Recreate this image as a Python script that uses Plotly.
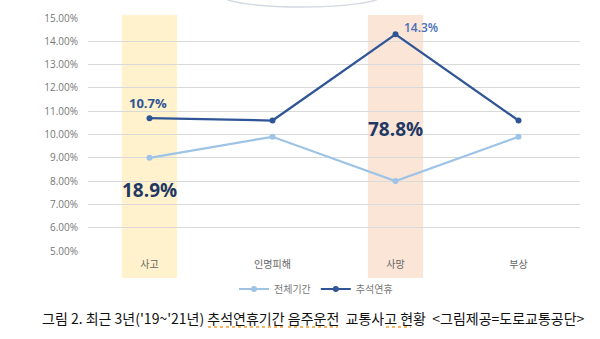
import plotly.graph_objects as go

# 음주운전 교통사고 비율 (%)
categories = ["사고", "인명피해", "사망", "부상"]
total_period = [9.0, 9.9, 8.0, 9.9]      # 전체기간
chuseok = [10.7, 10.6, 14.3, 10.6]       # 추석연휴
highlight_share = {"사고": "18.9%", "사망": "78.8%"}
y_ticks = [5, 6, 7, 8, 9, 10, 11, 12, 13, 14, 15]
caption = ("그림 2. 최근 3년('19~'21년) 추석연휴기간 음주운전\u00a0\u00a0교통사고 현황"
           "\u00a0\u00a0<그림제공=도로교통공단>")

W, H = 600, 339
LIGHT = "#9DC3E6"
DARK = "#2F5597"
NAVY = "#1F3864"


def px(x):
    return x / W


def py(y):
    return 1 - y / H


fig = go.Figure()
fig.add_trace(go.Scatter(
    x=categories, y=total_period, name="전체기간", mode="lines+markers",
    line=dict(color=LIGHT, width=2.2), marker=dict(size=6, color=LIGHT),
))
fig.add_trace(go.Scatter(
    x=categories, y=chuseok, name="추석연휴", mode="lines+markers",
    line=dict(color=DARK, width=2.2), marker=dict(size=6, color=DARK),
))

# highlighted category columns
band_colors = {"사고": "#FFF2CC", "사망": "#FBE5D6"}
for cat, col in band_colors.items():
    i = categories.index(cat)
    fig.add_shape(type="rect", xref="x", yref="paper",
                  x0=i - 0.225, x1=i + 0.225, y0=py(278), y1=py(15),
                  fillcolor=col, line_width=0, layer="between")

# decorative arc at the top edge
fig.add_shape(type="circle", xref="paper", yref="paper",
              x0=px(222), x1=px(382), y0=py(7), y1=py(-16),
              line=dict(color="#D3D8E2", width=1.5), fillcolor="rgba(0,0,0,0)")

# value labels
i0 = categories.index("사고")
fig.add_annotation(x=categories[i0], y=chuseok[i0], text=f"<b>{chuseok[i0]}%</b>",
                   showarrow=False, yshift=15, xshift=-2,
                   font=dict(size=13, color=DARK, family="Open Sans"))
i2 = categories.index("사망")
fig.add_annotation(x=categories[i2], y=chuseok[i2], text=f"{chuseok[i2]}%",
                   showarrow=False, xanchor="left", xshift=6, yshift=7,
                   font=dict(size=12, color="#4A6FB5", family="Open Sans", weight=600))
share_y = {"사고": 7.6, "사망": 10.25}
for cat, share in highlight_share.items():
    fig.add_annotation(x=cat, y=share_y[cat], text=f"<b>{share}</b>", showarrow=False,
                       font=dict(size=19, color=NAVY, family="Open Sans"))

# caption
fig.add_annotation(xref="paper", yref="paper", x=px(40), y=py(318),
                   xanchor="left", yanchor="middle", text=caption, showarrow=False,
                   font=dict(size=14, color="#111111", family="Noto Sans CJK KR"))

# spell-check style dotted underlines under caption words
for x0, x1 in [(208, 284), (288, 338), (386, 411)]:
    fig.add_shape(type="line", xref="paper", yref="paper",
                  x0=px(x0), x1=px(x1), y0=py(327), y1=py(327),
                  line=dict(color="#F0A030", width=1.5, dash="dot"))

fig.update_layout(
    template="none",
    width=W, height=H, margin=dict(l=0, r=0, t=0, b=0, autoexpand=False),
    paper_bgcolor="white", plot_bgcolor="white",
    font=dict(family="Noto Sans CJK KR", color="#666666"),
    showlegend=True,
    legend=dict(orientation="h", x=px(316), y=py(289), xanchor="center",
                yanchor="middle", itemwidth=30, font=dict(size=10, color="#777777"),
                bgcolor="rgba(0,0,0,0)"),
    xaxis=dict(domain=[px(88), px(580)], range=[-0.5, 3.5], type="category",
               automargin=False,
               showgrid=False, showline=False, zeroline=False,
               ticks="", tickfont=dict(size=10, color="#666666"),
               ticklabelstandoff=6),
    yaxis=dict(domain=[py(251), py(18)], range=[5, 15], tickvals=y_ticks,
               automargin=False,
               ticktext=[f"{v:.2f}%" for v in y_ticks],
               showgrid=True, gridcolor="#D9D9D9", gridwidth=1,
               zeroline=False, showline=False, ticks="",
               tickfont=dict(size=10, color="#777777", family="Open Sans"),
               ticklabelstandoff=9),
)

fig.write_html("out.html")
